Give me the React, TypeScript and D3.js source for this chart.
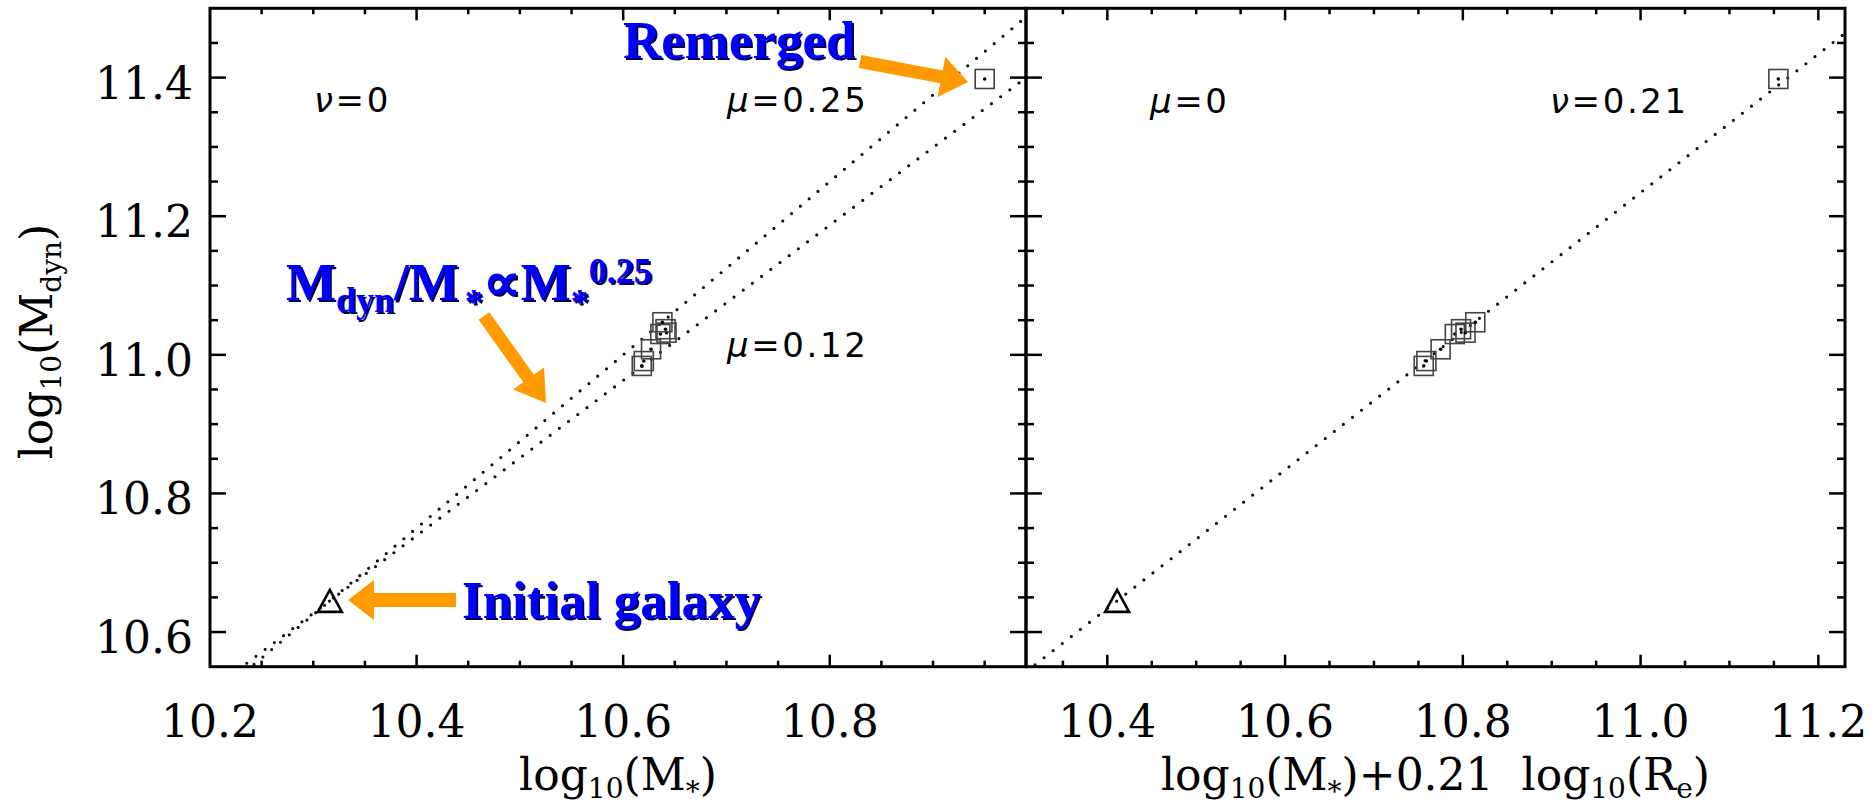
import React from "react";
import * as d3 from "d3";

// axis ranges
const yDomain = [10.55, 11.5];
const leftXDomain = [10.2, 10.99];
const rightXDomain = [10.3085, 11.23];

const leftXTicks = [10.2, 10.4, 10.6, 10.8];
const rightXTicks = [10.4, 10.6, 10.8, 11.0, 11.2];
const yTicks = [10.6, 10.8, 11.0, 11.2, 11.4];

// merger remnants (last one = "Remerged")
const remnantMdyn = [10.984, 10.991, 11.008, 11.03, 11.037, 11.032, 11.047, 11.398];
const remnantMstar = [10.618, 10.62, 10.627, 10.636, 10.641, 10.642, 10.638, 10.95];
const remnantMR = [10.756, 10.759, 10.775, 10.791, 10.798, 10.803, 10.814, 11.155];

// initial galaxy
const initMstar = 10.316;
const initMR = 10.411;
const initMdyn = 10.645;

// power-law exponents of the dotted lines
const leftMu = [0.25, 0.12];
const rightMu = [0];

const W = 1873,
  H = 808;
const top = 8.3,
  bottom = 666.7;
const leftX0 = 210,
  midX = 1026,
  rightX1 = 1845;

const y = d3.scaleLinear().domain(yDomain).range([bottom, top]);
const xL = d3.scaleLinear().domain(leftXDomain).range([leftX0, midX]);
const xR = d3.scaleLinear().domain(rightXDomain).range([midX, rightX1]);

const serif = "'DejaVu Serif', serif";
const sans = "'DejaVu Sans', sans-serif";
const bold = "'Liberation Serif', 'Times New Roman', serif";
const orange = "#FF9A00";
const blue = "#0000FF";

function minor(domain: number[]) {
  const start = Math.ceil(domain[0] / 0.05 - 1e-6) * 0.05;
  return d3.range(start, domain[1] + 1e-6, 0.05);
}

function arrow(x1: number, y1: number, x2: number, y2: number, w: number, hw: number, hl: number) {
  const dx = x2 - x1,
    dy = y2 - y1,
    L = Math.hypot(dx, dy);
  const ux = dx / L,
    uy = dy / L,
    nx = -uy,
    ny = ux;
  const bx = x2 - ux * hl,
    by = y2 - uy * hl;
  const pts = [
    [x1 + (nx * w) / 2, y1 + (ny * w) / 2],
    [bx + (nx * w) / 2, by + (ny * w) / 2],
    [bx + (nx * hw) / 2, by + (ny * hw) / 2],
    [x2, y2],
    [bx - (nx * hw) / 2, by - (ny * hw) / 2],
    [bx - (nx * w) / 2, by - (ny * w) / 2],
    [x1 - (nx * w) / 2, y1 - (ny * w) / 2],
  ];
  return pts.map((p) => p.join(",")).join(" ");
}

function Frame({ x, id }: { x: d3.ScaleLinear<number, number>; id: string }) {
  const [x0, x1] = x.range();
  const xd = x.domain();
  const yd = y.domain();
  const ticks: JSX.Element[] = [];
  minor(xd).forEach((v, i) => {
    const major = Math.abs(v * 5 - Math.round(v * 5)) < 1e-6;
    const len = major ? 12 : 6;
    const px = x(v);
    if (px < x0 + 1 || px > x1 - 1) return;
    ticks.push(<line key={"b" + i} x1={px} x2={px} y1={bottom} y2={bottom - len} />);
    ticks.push(<line key={"t" + i} x1={px} x2={px} y1={top} y2={top + len} />);
  });
  minor(yd).forEach((v, i) => {
    const major = Math.abs(v * 5 - Math.round(v * 5)) < 1e-6;
    const len = major ? 16 : 8;
    const py = y(v);
    if (py < top + 1 || py > bottom - 1) return;
    ticks.push(<line key={"l" + i} x1={x0} x2={x0 + len} y1={py} y2={py} />);
    ticks.push(<line key={"r" + i} x1={x1} x2={x1 - len} y1={py} y2={py} />);
  });
  return (
    <g>
      <defs>
        <clipPath id={id}>
          <rect x={x0} y={top} width={x1 - x0} height={bottom - top} />
        </clipPath>
      </defs>
      <g stroke="#000" strokeWidth={2.5}>{ticks}</g>
      <rect x={x0} y={top} width={x1 - x0} height={bottom - top} fill="none" stroke="#000" strokeWidth={3} />
    </g>
  );
}

function DottedLines({ x, x0v, mus, clip }: { x: d3.ScaleLinear<number, number>; x0v: number; mus: number[]; clip: string }) {
  return (
    <g clipPath={`url(#${clip})`}>
      {mus.map((mu, i) => {
        const xd = x.domain();
        const pts: [number, number][] = xd.map((v) => [x(v), y(initMdyn + (1 + mu) * (v - x0v))]);
        const path = d3.line()(pts);
        return (
          <path
            key={i}
            d={path || ""}
            fill="none"
            stroke="#111"
            strokeWidth={3.2}
            strokeLinecap="round"
            strokeDasharray="0 11.5"
          />
        );
      })}
    </g>
  );
}

function Markers({ x, xs, x0v }: { x: d3.ScaleLinear<number, number>; xs: number[]; x0v: number }) {
  const s = 19;
  const tx = x(x0v),
    ty = y(initMdyn);
  return (
    <g>
      {xs.map((v, i) => (
        <g key={i}>
          <rect x={x(v) - s / 2} y={y(remnantMdyn[i]) - s / 2} width={s} height={s} fill="none" stroke="#444" strokeWidth={1.6} />
          <circle cx={x(v)} cy={y(remnantMdyn[i])} r={1.8} fill="#000" />
        </g>
      ))}
      <polygon
        points={`${tx - 12},${ty + 11} ${tx},${ty - 11} ${tx + 12},${ty + 11}`}
        fill="none"
        stroke="#000"
        strokeWidth={2.6}
        strokeLinejoin="miter"
      />
    </g>
  );
}

function BlueText({ x, yb, children }: { x: number; yb: number; children: React.ReactNode }) {
  return (
    <g fontFamily={bold} fontWeight="bold" fontSize={53}>
      <text x={x + 1.8} y={yb + 1.8} fill="#000050">
        {children}
      </text>
      <text x={x} y={yb} fill={blue}>
        {children}
      </text>
    </g>
  );
}

export default function App() {
  const formula = (
    <>
      M
      <tspan fontSize={36} dy={12}>
        dyn
      </tspan>
      <tspan dy={-12}>/M</tspan>
      <tspan fontSize={36} dx={6} dy={14}>
        *
      </tspan>
      <tspan dy={-14}>∝M</tspan>
      <tspan fontSize={36} dy={14}>
        *
      </tspan>
      <tspan fontSize={36} dy={-31}>
        0.25
      </tspan>
    </>
  );
  const greek = (g: string, rest: string, xx: number, yb: number) => (
    <text x={xx} y={yb} fontFamily={sans} fontSize={34} letterSpacing={2.6} fill="#000">
      <tspan fontStyle="italic">{g}</tspan>
      {rest}
    </text>
  );
  return (
    <svg width={W} height={H} style={{ position: "absolute", left: 0, top: 0, background: "#fff" }}>
      <rect width={W} height={H} fill="#fff" />

      <DottedLines x={xL} x0v={initMstar} mus={leftMu} clip="clipL" />
      <DottedLines x={xR} x0v={initMR} mus={rightMu} clip="clipR" />
      <Markers x={xL} xs={remnantMstar} x0v={initMstar} />
      <Markers x={xR} xs={remnantMR} x0v={initMR} />

      <Frame x={xL} id="clipL" />
      <Frame x={xR} id="clipR" />

      {/* tick labels */}
      <g fontFamily={serif} fontSize={44} fill="#000">
        {leftXTicks.map((v) => (
          <text key={"lx" + v} x={xL(v)} y={737} textAnchor="middle">
            {v.toFixed(1)}
          </text>
        ))}
        {rightXTicks.map((v) => (
          <text key={"rx" + v} x={xR(v)} y={737} textAnchor="middle">
            {v.toFixed(1)}
          </text>
        ))}
        {yTicks.map((v) => (
          <text key={"y" + v} x={193} y={y(v) + 21} textAnchor="end">
            {v.toFixed(1)}
          </text>
        ))}
      </g>

      {/* axis titles */}
      <g fontFamily={serif} fontSize={44} fill="#000">
        <text x={(leftX0 + midX) / 2} y={790} textAnchor="middle">
          log
          <tspan fontSize={28} dy={8}>
            10
          </tspan>
          <tspan dy={-8}>(M</tspan>
          <tspan fontSize={28} dy={11}>
            *
          </tspan>
          <tspan dy={-11}>)</tspan>
        </text>
        <text x={(midX + rightX1) / 2} y={790} textAnchor="middle" style={{ whiteSpace: "pre" }}>
          log
          <tspan fontSize={28} dy={8}>
            10
          </tspan>
          <tspan dy={-8}>(M</tspan>
          <tspan fontSize={28} dy={11}>
            *
          </tspan>
          <tspan dy={-11}>{")+0.21  log"}</tspan>
          <tspan fontSize={28} dy={8}>
            10
          </tspan>
          <tspan dy={-8}>(R</tspan>
          <tspan fontSize={28} dy={8}>
            e
          </tspan>
          <tspan dy={-8}>)</tspan>
        </text>
        <text transform={`translate(52,${(top + bottom) / 2 + 4}) rotate(-90)`} textAnchor="middle">
          log
          <tspan fontSize={28} dy={9}>
            10
          </tspan>
          <tspan dy={-9}>(M</tspan>
          <tspan fontSize={28} dy={9}>
            dyn
          </tspan>
          <tspan dy={-9}>)</tspan>
        </text>
      </g>

      {/* parameter labels */}
      {greek("ν", "=0", 314, 112)}
      {greek("μ", "=0.25", 727, 112)}
      {greek("μ", "=0.12", 727, 357)}
      {greek("μ", "=0", 1150, 113)}
      {greek("ν", "=0.21", 1550, 113)}

      {/* annotation arrows */}
      <g fill={orange}>
        <polygon points={arrow(860, 61.5, 968, 82, 13, 41, 27)} />
        <polygon points={arrow(484, 316, 546, 403, 13, 38, 30)} />
        <polygon points={arrow(456, 600, 348, 600, 14, 40, 26)} />
      </g>

      <BlueText x={623} yb={58}>
        Remerged
      </BlueText>
      <BlueText x={462} yb={618}>
        Initial galaxy
      </BlueText>
      <BlueText x={286} yb={300}>
        {formula}
      </BlueText>
    </svg>
  );
}
